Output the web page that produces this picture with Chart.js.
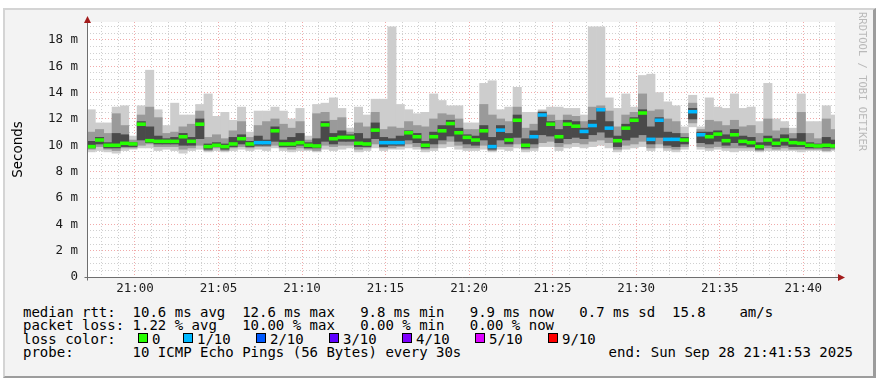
<!DOCTYPE html>
<html>
<head>
<meta charset="utf-8">
<script src="https://cdn.jsdelivr.net/npm/chart.js@4.4.0/dist/chart.umd.min.js"></script>
<style>
  html, body { margin: 0; padding: 0; background: #fff; width: 880px; height: 378px; overflow: hidden; }
  #frame { position: absolute; left: 3px; top: 8px; width: 873px; height: 370px; box-sizing: border-box;
           background: #f3f3f3; border-top: 2px solid #d4d4d4; border-left: 2px solid #d4d4d4;
           border-right: 3px solid #9c9c9c; border-bottom: 2px solid #9c9c9c; }
  #c { position: absolute; left: 0; top: 0; }
  .t { position: absolute; font-family: "DejaVu Sans Mono", monospace; font-size: 14px; line-height: 14px;
       white-space: pre; color: #000; }
  .box { position: absolute; width: 10px; height: 10px; box-sizing: border-box; border: 1px solid #000; }
  #mark { position: absolute; left: 857px; top: 12px; writing-mode: vertical-rl; font-family: "DejaVu Sans Mono", monospace;
          font-size: 10.5px; color: #b9b9b9; white-space: pre; }
</style>
</head>
<body>
<div id="frame"></div>
<canvas id="c" width="880" height="300"></canvas>
<div id="mark">RRDTOOL / TOBI OETIKER</div>
<div id="legend"></div>
<script>
// 30 s bins, minutes relative to 21:00
const xMin = -2.87;
const xMax = 41.9;
const binStep = 0.5;

// smoke: sorted pings per bin (ms)
const pingMin = [9.5,9.6,9.5,9.4,9.6,9.7,9.8,9.8,9.6,9.7, 9.6,9.4,9.6,9.7,9.5,9.6,9.5,9.6,9.7,9.6,
  9.7,9.6,9.8,9.6,9.5,9.6,9.6,9.5,9.7,9.6, 9.7,9.8,9.5,9.6,9.8,9.6,9.7,9.7,9.8,9.7,
  9.5,9.6,9.8,9.9,9.7,9.6,9.6,9.7,9.5,9.7, 9.6,9.8,9.5,9.6,9.9,9.9,9.6,9.8,9.9,9.8,
  9.9,10.0,9.8,9.5,9.7,9.8,9.9,9.6,9.8,9.6, 9.5,9.7,11.4,9.7,9.6,9.7,9.6,9.5,9.6,9.6,
  9.5,9.6,9.6,9.6,9.6,9.5,9.6,9.6,9.5,9.6];
const ping2 = [9.7,9.9,9.7,9.6,9.8,9.8,10.0,10.1,9.9,9.9, 9.9,9.7,9.8,10.0,9.6,9.8,9.6,9.8,9.9,9.8,
  9.9,9.9,10.0,9.8,9.7,9.8,9.7,9.6,10.0,9.9, 10.0,10.0,9.7,9.8,10.1,9.8,9.8,9.9,10.1,9.9,
  9.7,9.8,10.1,10.3,10.0,9.8,9.8,10.0,9.6,9.9, 9.9,10.1,9.7,9.8,10.2,10.3,9.9,10.1,10.2,10.1,
  10.3,10.4,10.2,9.7,10.0,10.1,10.3,9.8,10.1,9.8, 9.7,9.9,11.7,9.9,9.8,9.9,9.8,9.8,9.8,9.8,
  9.6,9.8,9.7,9.8,9.7,9.7,9.7,9.7,9.6,9.7];
const ping4 = [9.8,10.1,9.8,9.8,9.9,9.9,10.4,10.2,10.1,10.1, 10.1,10.0,10.0,10.5,9.7,9.9,9.7,9.9,10.1,9.9,
  10.0,10.0,10.3,9.9,9.9,10.0,9.8,9.8,10.3,10.1, 10.3,10.3,9.9,9.9,10.5,9.9,10.0,10.0,10.4,10.2,
  9.8,10.1,10.4,10.7,10.3,10.1,10.0,10.4,9.7,10.4, 10.1,10.6,9.8,10.1,10.8,10.7,10.2,10.5,10.6,10.5,
  10.8,11.0,10.6,9.9,10.4,10.6,10.8,10.1,10.6,10.0, 9.9,10.1,12.0,10.2,10.1,10.3,10.0,10.2,10.0,9.9,
  9.7,10.0,9.9,10.0,9.9,9.9,9.8,9.8,9.8,9.8];
const median = [9.9,10.4,10.0,10.0,10.15,10.1,11.6,10.35,10.3,10.3, 10.3,10.65,10.3,11.6,9.9,10.0,9.9,10.1,10.5,10.1,
  10.2,10.2,11.1,10.1,10.1,10.2,10.0,9.95,11.55,10.5, 10.6,10.6,10.15,10.1,11.15,10.2,10.2,10.2,10.95,10.65,
  10.0,10.65,11.1,11.65,10.95,10.6,10.4,11.1,9.9,11.15, 10.4,11.9,10.0,10.65,12.3,11.6,10.65,11.6,11.45,11.05,
  11.5,12.7,11.3,10.35,11.3,11.9,12.45,10.45,11.9,10.45, 10.45,10.4,12.55,10.8,10.65,10.85,10.35,10.8,10.3,10.2,
  9.9,10.4,10.15,10.4,10.2,10.15,10.0,9.95,10.0,9.95];
const ping7 = [10.3,10.6,10.2,10.9,10.8,10.2,11.8,11.4,10.7,10.5, 10.6,10.9,10.6,12.0,10.1,10.2,10.1,10.6,10.8,10.3,
  10.7,10.4,11.4,10.4,10.6,10.9,10.2,10.5,11.8,10.9, 11.1,10.8,10.9,10.5,11.7,10.6,10.5,10.7,11.1,10.9,
  10.3,11.0,11.5,11.9,11.3,10.8,10.7,11.5,10.6,11.5, 10.9,12.3,10.5,11.1,12.5,11.8,11.2,11.9,11.8,11.3,
  11.9,12.8,11.8,10.7,11.6,12.1,12.7,11.4,12.1,11.0, 10.9,10.6,12.8,11.0,11.0,11.1,10.8,11.2,10.7,10.6,
  10.2,10.7,10.5,10.8,10.5,10.9,10.2,10.1,10.6,10.4];
const ping9 = [11.0,11.2,10.9,12.4,11.5,10.4,12.3,12.9,12.1,10.9, 11.0,11.4,11.6,12.6,10.6,10.8,10.5,11.1,11.8,10.6,
  11.5,11.8,12.0,11.6,11.3,11.8,10.4,12.4,12.5,11.9, 12.1,11.0,11.7,11.4,12.5,11.2,11.4,11.3,11.8,11.5,
  11.4,12.0,12.4,12.3,12.0,11.2,11.2,13.1,12.3,12.0, 11.8,12.9,11.3,11.6,12.6,12.3,11.9,12.3,12.2,11.8,
  12.9,13.0,12.6,11.4,12.3,12.5,13.9,12.6,12.7,12.0, 11.8,10.9,13.2,11.2,11.9,11.8,11.5,11.9,11.4,11.5,
  10.9,12.0,11.1,11.3,10.9,12.5,10.9,10.5,12.0,11.2];
const pingMax = [12.7,11.7,11.7,12.9,13.0,10.7,13.0,15.7,12.7,11.5, 13.2,12.3,12.3,13.1,13.9,12.2,12.5,11.9,12.9,11.0,
  12.6,12.6,12.9,12.6,12.0,12.8,10.7,13.1,13.2,13.6, 12.8,11.3,12.9,12.3,13.5,13.5,19.0,13.1,12.7,12.4,
  12.5,13.9,13.4,13.0,13.0,11.7,11.7,14.7,14.9,12.7, 12.9,14.4,12.5,12.5,12.7,12.9,12.9,12.8,12.8,12.3,
  19.0,19.0,13.6,12.8,13.9,12.9,15.3,15.4,14.0,13.3, 13.0,11.4,13.8,11.4,13.6,12.9,12.8,13.9,12.8,12.9,
  11.8,14.7,12.0,11.8,11.3,13.9,11.8,11.8,13.0,12.3];
// lost pings out of 10 per bin
const lost = [0,0,0,0,0,0,0,0,0,0, 0,0,0,0,0,0,0,0,0,0,
  1,1,0,0,0,0,0,0,0,0, 0,0,0,0,0,1,1,1,0,0,
  0,0,0,0,0,0,0,0,1,1, 0,0,0,1,1,0,0,0,0,1,
  1,1,1,0,0,0,0,1,1,1, 1,0,1,1,0,0,0,0,0,0,
  0,0,0,0,0,0,0,0,0,0];

const lossLabels = ['0', '1/10', '2/10', '3/10', '4/10', '5/10', '9/10'];
const lossColors = ['#26ff00', '#00b8ff', '#0059ff', '#5e00ff', '#7e00ff', '#dd00ff', '#ff0000'];

function lossColor(n) {
  if (n >= 9) return lossColors[6];
  if (n >= 5) return lossColors[5];
  return lossColors[n];
}

const xs = median.map((_, i) => xMin + binStep * (i + 0.5));
const band = (lo, hi) => xs.map((x, i) => ({x: x, y: [lo[i], hi[i]]}));

const bars = {type: 'bar', grouped: false, barPercentage: 1, categoryPercentage: 1, borderWidth: 0};

const MAJOR = 'rgba(230,100,100,0.55)';
const MINOR = 'rgba(170,170,170,0.55)';

const decor = {
  id: 'decor',
  beforeDraw(chart) {
    const {ctx, chartArea: a} = chart;
    ctx.save();
    ctx.fillStyle = '#fff';
    ctx.fillRect(a.left, a.top, a.right - a.left, a.bottom - a.top);
    ctx.restore();
  },
  afterDraw(chart) {
    const {ctx, chartArea: a} = chart;
    const x0 = Math.round(a.left) + 0.5, y0 = Math.round(a.bottom) + 0.5;
    ctx.save();
    ctx.strokeStyle = '#6e6e6e';
    ctx.lineWidth = 1;
    ctx.beginPath();
    ctx.moveTo(x0, y0 + 3); ctx.lineTo(x0, a.top - 3);
    ctx.moveTo(x0 - 3, y0); ctx.lineTo(a.right + 5, y0);
    ctx.stroke();
    ctx.fillStyle = '#a31b1b';
    ctx.beginPath();
    ctx.moveTo(x0 - 3.5, a.top + 1); ctx.lineTo(x0 + 3.5, a.top + 1); ctx.lineTo(x0, a.top - 6);
    ctx.fill();
    ctx.beginPath();
    ctx.moveTo(a.right + 3, y0 - 3.5); ctx.lineTo(a.right + 3, y0 + 3.5); ctx.lineTo(a.right + 10, y0);
    ctx.fill();
    ctx.restore();
  }
};

const tickFont = {family: 'DejaVu Sans Mono', size: 12.5};

new Chart(document.getElementById('c'), {
  data: {
    datasets: [
      {...bars, label: 'median', order: 0, data: xs.map((x, i) => ({x: x, y: [median[i] - 0.11, median[i] + 0.11]})),
        backgroundColor: lost.map(lossColor)},
      {...bars, label: 'p4-p7', order: 1, data: band(ping4, ping7), backgroundColor: '#4a4a4a'},
      {...bars, label: 'p2-p9', order: 2, data: band(ping2, ping9), backgroundColor: '#9a9a9a'},
      {...bars, label: 'min-max', order: 3, data: band(pingMin, pingMax), backgroundColor: '#cdcdcd'}
    ]
  },
  options: {
    responsive: false,
    animation: false,
    layout: {padding: {left: 0, top: 22, right: 45, bottom: 0}},
    plugins: {legend: {display: false}, tooltip: {enabled: false}},
    scales: {
      x: {
        type: 'linear', min: xMin, max: xMax, z: 1, offset: false,
        afterFit: s => { s.height = 23; },
        border: {display: false, dash: [1, 2]},
        grid: {drawTicks: false, offset: false, color: c => (c.tick && Math.round(c.tick.value) % 5 === 0 ? MAJOR : MINOR)},
        ticks: {
          stepSize: 1, includeBounds: false, autoSkip: false, maxRotation: 0, padding: 4,
          font: tickFont, color: '#1a1a1a',
          callback: v => {
            const m = Math.round(v);
            return m % 5 === 0 ? '21:' + String(m).padStart(2, '0') : '';
          }
        }
      },
      y: {
        min: 0, max: 19.36, z: 1,
        afterFit: s => { s.width = 87; },
        border: {display: false, dash: [1, 2]},
        grid: {drawTicks: false, color: c => (c.tick && Math.round(c.tick.value * 2) % 4 === 0 ? MAJOR : MINOR)},
        title: {display: true, text: 'Seconds', color: '#000', font: {family: 'DejaVu Sans', size: 13.5}, padding: {top: 10, bottom: 0}},
        ticks: {
          stepSize: 0.5, includeBounds: false, autoSkip: false, maxTicksLimit: 1000, padding: 9,
          font: tickFont, color: '#1a1a1a',
          callback: v => {
            const h = Math.round(v * 2);
            if (h % 4 !== 0) return '';
            return h === 0 ? '0' : (h / 2) + ' m';
          }
        }
      }
    }
  },
  plugins: [decor]
});

// legend lines (rrdtool style)
const legendLines = [
  {top: 304.5, text: 'median rtt:  10.6 ms avg  12.6 ms max   9.8 ms min   9.9 ms now   0.7 ms sd  15.8    am/s'},
  {top: 318, text: 'packet loss: 1.22 % avg   10.00 % max   0.00 % min   0.00 % now'},
  {top: 331.5, text: 'loss color:'},
  {top: 345, text: 'probe:       10 ICMP Echo Pings (56 Bytes) every 30s'}
];
const boxX = [138, 183, 256, 329, 402, 475, 548];
const leg = document.getElementById('legend');
legendLines.forEach(l => {
  const d = document.createElement('div');
  d.className = 't'; d.style.left = '23px'; d.style.top = l.top + 'px'; d.textContent = l.text;
  leg.appendChild(d);
});
lossLabels.forEach((lab, i) => {
  const b = document.createElement('div');
  b.className = 'box'; b.style.left = boxX[i] + 'px'; b.style.top = '333px'; b.style.background = lossColors[i];
  leg.appendChild(b);
  const d = document.createElement('div');
  d.className = 't'; d.style.left = (boxX[i] + 14) + 'px'; d.style.top = '331.5px'; d.textContent = lab;
  leg.appendChild(d);
});
const end = document.createElement('div');
end.className = 't'; end.style.right = (880 - 853) + 'px'; end.style.top = '345px';
end.textContent = 'end: Sun Sep 28 21:41:53 2025';
leg.appendChild(end);
</script>
</body>
</html>
